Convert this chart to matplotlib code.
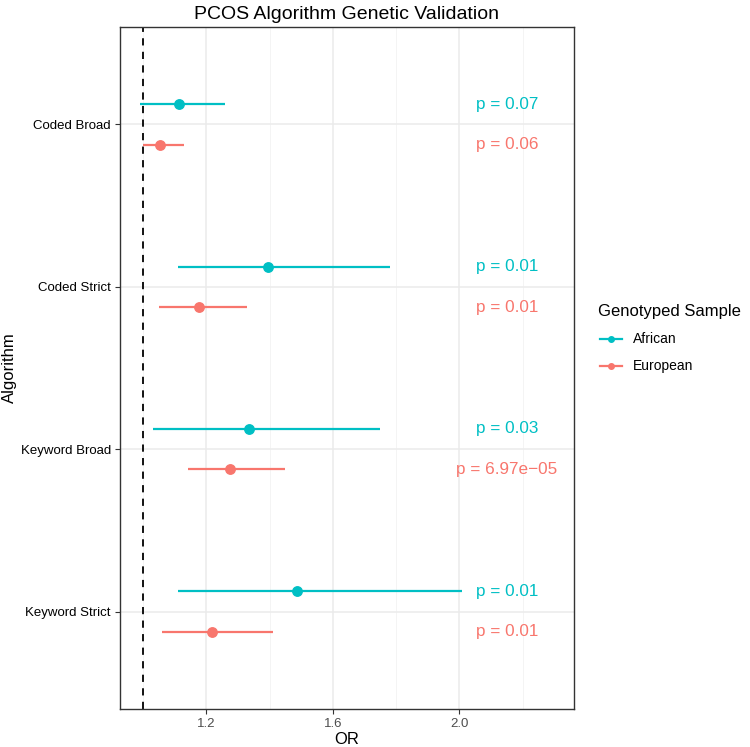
import matplotlib
matplotlib.use("Agg")
import matplotlib.pyplot as plt
from matplotlib.lines import Line2D

plt.rcParams['font.family'] = ['Liberation Sans', 'DejaVu Sans']

algorithms = ["Coded Broad", "Coded Strict", "Keyword Broad", "Keyword Strict"]
groups = ["African", "European"]
colors = ["#00BFC4", "#F8766D"]

african_or = [1.115, 1.396, 1.335, 1.486]
african_lo = [0.99, 1.11, 1.03, 1.11]
african_hi = [1.259, 1.78, 1.748, 2.007]
african_p = ["p = 0.07", "p = 0.01", "p = 0.03", "p = 0.01"]

european_or = [1.055, 1.176, 1.276, 1.217]
european_lo = [1.0, 1.05, 1.141, 1.059]
european_hi = [1.128, 1.329, 1.449, 1.41]
european_p = ["p = 0.06", "p = 0.01", "p = 6.97e\u221205", "p = 0.01"]

x_ticks = [1.2, 1.6, 2.0]
x_minor = [1.0, 1.4, 1.8, 2.2]
ref_line = 1.0
p_x = 2.15

W, H = 750, 747
fig = plt.figure(figsize=(7.5, 7.47), dpi=100)
ax = fig.add_axes([120 / W, 1 - 709 / H, (574 - 120) / W, (709 - 27) / H])
ax.set_facecolor("white")

n = len(algorithms)
ypos = [n - i for i in range(n)]
offsets = [0.125, -0.125]
series = [
    (african_or, african_lo, african_hi, african_p),
    (european_or, european_lo, european_hi, european_p),
]

# grid
for xm in x_minor:
    ax.axvline(xm, color="#F2F2F2", lw=0.6, zorder=0)
for xt in x_ticks:
    ax.axvline(xt, color="#EBEBEB", lw=1.1, zorder=0)
for yp in ypos:
    ax.axhline(yp, color="#EBEBEB", lw=1.1, zorder=0)

ax.axvline(ref_line, color="black", lw=1.3, ls=(0, (4, 3.5)), zorder=1)

for (orv, lo, hi, pv), off, col in zip(series, offsets, colors):
    for i in range(n):
        y = ypos[i] + off
        ax.hlines(y, lo[i], hi[i], color=col, lw=1.6, zorder=2)
        ax.plot(orv[i], y, "o", color=col, ms=6.8, zorder=3)
        ax.text(p_x, y, pv[i], color=col, fontsize=12.3, ha="center", va="center", zorder=3)

ax.set_xlim(0.927, 2.362)
ax.set_ylim(0.4, n + 0.6)
ax.set_xticks(x_ticks)
ax.set_xticklabels([f"{v:.1f}" for v in x_ticks], fontsize=9.5, color="#4D4D4D")
ax.set_yticks(ypos)
ax.set_yticklabels(algorithms, fontsize=9.5, color="black")
ax.tick_params(axis="both", length=3.5, width=0.8, color="#333333", pad=3)
for s in ax.spines.values():
    s.set_color("#333333")
    s.set_linewidth(1.0)

fig.text(347 / W, 1 - 19 / H, "PCOS Algorithm Genetic Validation", fontsize=14,
         ha="center", va="baseline")
fig.text(347 / W, 1 - 744 / H, "OR", fontsize=12, ha="center", va="baseline")
fig.text(9 / W, 1 - 368 / H, "Algorithm", fontsize=12, ha="center", va="center",
         rotation=90)

# legend
fig.text(598 / W, 1 - 311 / H, "Genotyped Sample", fontsize=12, ha="left", va="center")
for k, (g, col) in enumerate(zip(groups, colors)):
    yy = 1 - (339 + 27 * k) / H
    fig.add_artist(Line2D([600 / W, 622 / W], [yy, yy], color=col, lw=1.6,
                          transform=fig.transFigure))
    fig.add_artist(Line2D([611 / W], [yy], color=col, marker="o", ms=4,
                          transform=fig.transFigure))
    fig.text(633 / W, yy, g, fontsize=10, ha="left", va="center")

fig.savefig("out.png", dpi=100, facecolor="white")
